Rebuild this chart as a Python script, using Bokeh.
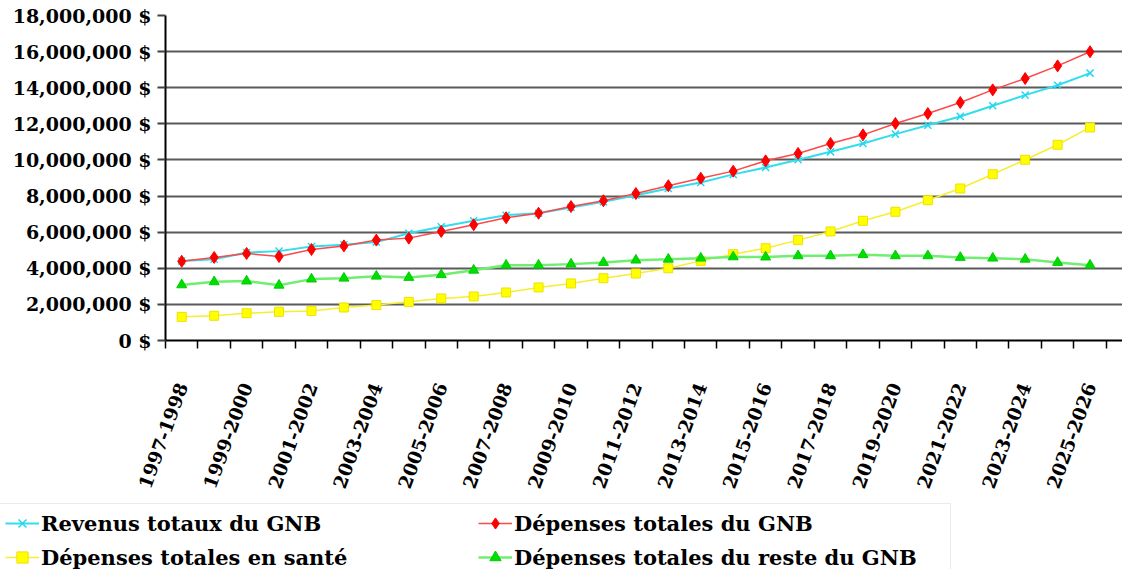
import math
from bokeh.plotting import figure
from bokeh.models import ColumnDataSource, FixedTicker, Legend, LegendItem, Range1d
from bokeh.embed import file_html
from bokeh.resources import INLINE

categories = [
    "1997-1998", "1998-1999", "1999-2000", "2000-2001", "2001-2002", "2002-2003",
    "2003-2004", "2004-2005", "2005-2006", "2006-2007", "2007-2008", "2008-2009",
    "2009-2010", "2010-2011", "2011-2012", "2012-2013", "2013-2014", "2014-2015",
    "2015-2016", "2016-2017", "2017-2018", "2018-2019", "2019-2020", "2020-2021",
    "2021-2022", "2022-2023", "2023-2024", "2024-2025", "2025-2026",
]
revenus = [
    4400000, 4500000, 4870000, 4950000, 5200000, 5300000, 5450000, 5940000,
    6300000, 6630000, 6940000, 7050000, 7370000, 7680000, 8050000, 8420000,
    8750000, 9200000, 9580000, 10010000, 10450000, 10910000, 11430000, 11920000,
    12410000, 13000000, 13590000, 14140000, 14810000,
]
depenses = [
    4390000, 4600000, 4820000, 4650000, 5040000, 5240000, 5560000, 5670000,
    6040000, 6410000, 6800000, 7050000, 7420000, 7740000, 8140000, 8570000,
    8990000, 9380000, 9950000, 10360000, 10910000, 11390000, 12020000, 12570000,
    13180000, 13880000, 14510000, 15210000, 15990000,
]
sante = [
    1310000, 1370000, 1510000, 1590000, 1640000, 1830000, 1960000, 2140000,
    2330000, 2440000, 2660000, 2940000, 3160000, 3450000, 3710000, 4000000,
    4410000, 4780000, 5110000, 5560000, 6040000, 6630000, 7130000, 7770000,
    8420000, 9210000, 10010000, 10840000, 11800000,
]
reste = [
    3080000, 3250000, 3290000, 3060000, 3400000, 3450000, 3560000, 3490000,
    3640000, 3890000, 4170000, 4170000, 4230000, 4320000, 4450000, 4500000,
    4560000, 4630000, 4620000, 4690000, 4690000, 4750000, 4690000, 4690000,
    4600000, 4560000, 4500000, 4320000, 4170000,
]
series_labels = [
    "Revenus totaux du GNB",
    "Dépenses totales du GNB",
    "Dépenses totales en santé",
    "Dépenses totales du reste du GNB",
]
y_ticks = [0, 2000000, 4000000, 6000000, 8000000, 10000000, 12000000, 14000000, 16000000, 18000000]
y_tick_labels = ["0 $", "2,000,000 $", "4,000,000 $", "6,000,000 $", "8,000,000 $",
                 "10,000,000 $", "12,000,000 $", "14,000,000 $", "16,000,000 $", "18,000,000 $"]

xs = list(range(len(categories)))
src = ColumnDataSource(dict(x=xs, revenus=revenus, depenses=depenses, sante=sante, reste=reste))

FONT = "DejaVu Serif"

STYLES = [
    dict(line_color="#33dded", line_width=2, marker="x", size=10, fill_color="#22d8ee", mline="#22d8ee", mw=1.5),
    dict(line_color="#ff4848", line_width=1.5, marker="diamond", size=12, fill_color="#ff0000", mline="#ff0000", mw=1),
    dict(line_color="#f6ee30", line_width=1.5, marker="square", size=9, fill_color="#ffff00", mline="#f0e000", mw=1),
    dict(line_color="#70ee70", line_width=2.5, marker="triangle", size=10, fill_color="#00dd00", mline="#00cc00", mw=1),
]
cols = ["revenus", "depenses", "sante", "reste"]

p = figure(width=1122, height=502, output_backend="svg", toolbar_location=None,
           x_range=Range1d(-0.5, 29.0), y_range=Range1d(0, 18000000),
           min_border_left=165, min_border_right=0, min_border_top=15, min_border_bottom=162)
p.outline_line_color = None

# y axis
p.yaxis.ticker = FixedTicker(ticks=y_ticks)
p.yaxis.major_label_overrides = {t: l for t, l in zip(y_ticks, y_tick_labels)}
p.yaxis.major_label_text_font = FONT
p.yaxis.major_label_text_font_style = "bold"
p.yaxis.major_label_text_font_size = "19px"
p.yaxis.major_label_text_color = "black"
p.yaxis.axis_line_width = 2
p.yaxis.axis_line_color = "black"
p.yaxis.major_tick_out = 8
p.yaxis.major_tick_in = 0
p.yaxis.major_tick_line_width = 2
p.yaxis.major_tick_line_color = "#404040"
p.yaxis.minor_tick_line_color = None
p.yaxis.major_label_standoff = 6

# x axis
label_idx = list(range(0, len(categories), 2))
p.xaxis.ticker = FixedTicker(ticks=label_idx, minor_ticks=[i - 0.5 for i in range(len(categories) + 1)])
p.xaxis.major_label_overrides = {i: categories[i] for i in label_idx}
p.xaxis.major_label_orientation = math.radians(70)
p.xaxis.major_label_text_font = FONT
p.xaxis.major_label_text_font_style = "bold"
p.xaxis.major_label_text_font_size = "18.5px"
p.xaxis.major_label_text_color = "black"
p.xaxis.major_tick_line_color = None
p.xaxis.major_tick_out = 8
p.xaxis.major_tick_in = 0
p.xaxis.minor_tick_line_color = "black"
p.xaxis.minor_tick_out = 8
p.xaxis.minor_tick_in = 0
p.xaxis.minor_tick_line_width = 1.5
p.xaxis.axis_line_width = 2
p.xaxis.axis_line_color = "black"
p.xaxis.major_label_standoff = 35

p.xgrid.visible = False
p.ygrid.ticker = FixedTicker(ticks=y_ticks)
p.ygrid.grid_line_color = "#5a5a5a"
p.ygrid.grid_line_width = 2

for c, st in zip(cols, STYLES):
    p.line("x", c, source=src, line_color=st["line_color"], line_width=st["line_width"])
    p.scatter("x", c, source=src, marker=st["marker"], size=st["size"],
              fill_color=st["fill_color"], line_color=st["mline"], line_width=st["mw"])

# legend strip below the chart (series drawn out of view, legend only)
pleg = figure(width=1122, height=67, output_backend="svg", toolbar_location=None,
              x_range=Range1d(-0.5, 29.0), y_range=Range1d(-2e7, -1.9e7),
              min_border=0, min_border_left=0, min_border_right=0,
              min_border_top=0, min_border_bottom=0,
              x_axis_location=None, y_axis_location=None)
pleg.outline_line_color = None
pleg.xgrid.visible = False
pleg.ygrid.visible = False
items = []
for lab, c, st in zip(series_labels, cols, STYLES):
    lr = pleg.line("x", c, source=src, line_color=st["line_color"], line_width=st["line_width"])
    sr = pleg.scatter("x", c, source=src, marker=st["marker"], size=6,
                      fill_color=st["fill_color"], line_color=st["mline"], line_width=st["mw"])
    items.append(LegendItem(label=lab, renderers=[lr, sr]))

legend = Legend(
    items=items, location=(-1, -8), orientation="horizontal", ncols=2,
    label_text_font=FONT, label_text_font_style="bold", label_text_font_size="21px",
    label_text_color="black",
    glyph_width=34, glyph_height=28, label_height=28, label_width=431,
    spacing=6, padding=5, margin=0, label_standoff=2,
    border_line_color="#d8d8d8", border_line_width=1,
    background_fill_color="white", background_fill_alpha=1.0,
)
pleg.add_layout(legend)

open("out.html", "w").write(file_html([p, pleg], INLINE))
